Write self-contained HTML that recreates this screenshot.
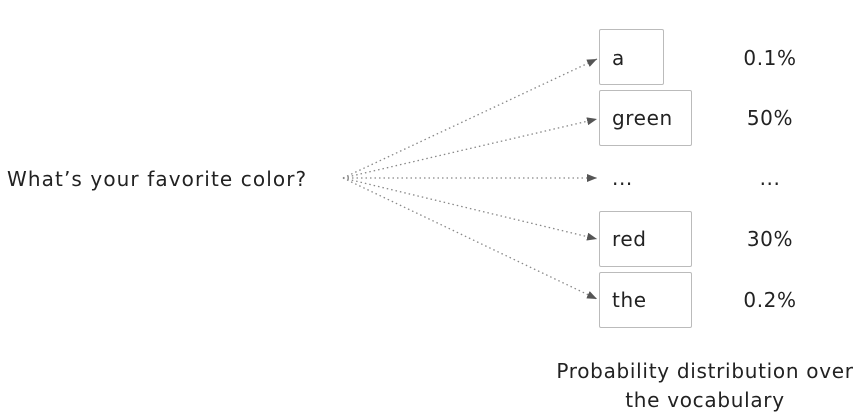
<!DOCTYPE html>
<html><head><style>
body{margin:0;width:863px;height:420px;background:#fff;position:relative;font-family:"DejaVu Sans","Liberation Sans",sans-serif;color:#222;overflow:hidden}
.t{position:absolute;font-size:20px;line-height:22px;white-space:nowrap;letter-spacing:0.6px}
.b{position:absolute;border:1.5px solid #bbb;box-sizing:border-box;left:599px;border-radius:2px}
.c{text-align:center;width:120px}
</style></head><body>
<svg width="863" height="420" style="position:absolute;left:0;top:0">
<defs><marker id="m" markerWidth="10" markerHeight="8" refX="10" refY="4" orient="auto" markerUnits="userSpaceOnUse"><path d="M0,0L10,4L0,8z" fill="#555"/></marker></defs>
<g stroke="#888" stroke-width="1.3" stroke-dasharray="1.5,3" fill="none">
<line x1="343" y1="178" x2="597" y2="59" marker-end="url(#m)"/>
<line x1="343" y1="178" x2="597" y2="119" marker-end="url(#m)"/>
<line x1="343" y1="178" x2="597" y2="178" marker-end="url(#m)"/>
<line x1="343" y1="178" x2="597" y2="239" marker-end="url(#m)"/>
<line x1="343" y1="178" x2="597" y2="299" marker-end="url(#m)"/>
</g></svg>
<div class="b" style="top:29px;width:65px;height:56px"></div>
<div class="b" style="top:90px;width:93px;height:56px"></div>
<div class="b" style="top:211px;width:93px;height:56px"></div>
<div class="b" style="top:272px;width:93px;height:56px"></div>
<div class="t" style="left:7px;top:168px;letter-spacing:1.1px">What’s your favorite color?</div>
<div class="t" style="left:612px;top:47px">a</div>
<div class="t" style="left:612px;top:107px">green</div>
<div class="t" style="left:612px;top:167px">...</div>
<div class="t" style="left:612px;top:228px">red</div>
<div class="t" style="left:612px;top:289px">the</div>
<div class="t c" style="left:710px;top:47px">0.1%</div>
<div class="t c" style="left:710px;top:107px">50%</div>
<div class="t c" style="left:710px;top:167px">...</div>
<div class="t c" style="left:710px;top:228px">30%</div>
<div class="t c" style="left:710px;top:289px">0.2%</div>
<div class="t c" style="left:555px;width:300px;top:360px;letter-spacing:0.7px">Probability distribution over</div>
<div class="t c" style="left:555px;width:300px;top:389px;letter-spacing:0.7px">the vocabulary</div>
</body></html>
